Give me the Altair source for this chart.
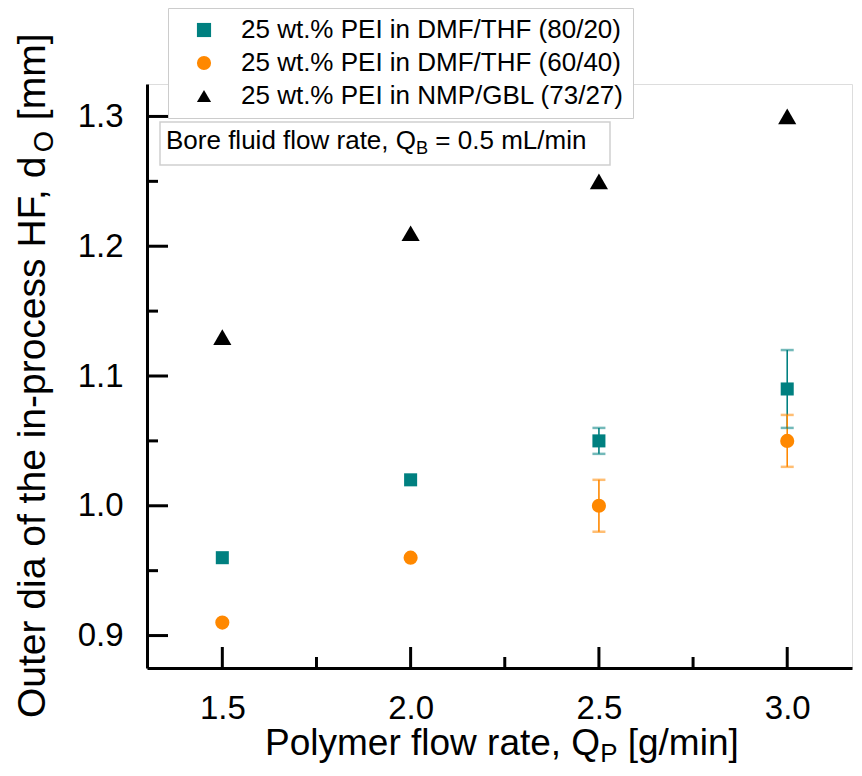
import altair as alt
import pandas as pd

# ---------------- data ----------------
QP = [1.5, 2.0, 2.5, 3.0]
SERIES = [
    "25 wt.% PEI in DMF/THF (80/20)",
    "25 wt.% PEI in DMF/THF (60/40)",
    "25 wt.% PEI in NMP/GBL (73/27)",
]
DO_8020 = [0.96, 1.02, 1.05, 1.09]
ERR_8020 = [0.0, 0.0, 0.01, 0.03]
DO_6040 = [0.91, 0.96, 1.00, 1.05]
ERR_6040 = [0.0, 0.0, 0.02, 0.02]
DO_7327 = [1.13, 1.21, 1.25, 1.30]

X_MAJOR = [1.5, 2.0, 2.5, 3.0]
X_MINOR = [1.75, 2.25, 2.75]
Y_MAJOR = [0.9, 1.0, 1.1, 1.2, 1.3]
Y_MINOR = [0.95, 1.05, 1.15, 1.25]

X_TITLE = [("Polymer flow rate, Q", False), ("P", True), (" [g/min]", False)]
Y_TITLE = [("Outer dia of the in-process HF, d", False), ("O", True), (" [mm]", False)]
NOTE = [("Bore fluid flow rate, Q", False), ("B", True), (" = 0.5 mL/min", False)]

# ---------------- styles ----------------
COLORS = ["#008080", "#FF8800", "#000000"]
SHAPES = ["square", "circle", "triangle-up"]
SIZES = [170, 200, 330]
FONT = "Liberation Sans"
W, H = 705, 584
XDOM = [1.3, 1.3 + W / 376.6]
YDOM = [0.875, 1.325]

# Arial / Liberation Sans advance widths (per 1000 em)
AW = {" ": 278, ".": 278, ",": 278, "/": 278, "%": 889, "(": 333, ")": 333,
      "[": 278, "]": 278, "=": 584, "-": 333,
      "A": 667, "B": 667, "C": 722, "D": 722, "E": 667, "F": 611, "G": 778,
      "H": 722, "I": 278, "L": 556, "M": 833, "N": 722, "O": 778, "P": 667,
      "Q": 778, "R": 722, "S": 667, "T": 611,
      "a": 556, "b": 556, "c": 500, "d": 556, "e": 556, "f": 278, "g": 556,
      "h": 556, "i": 222, "k": 500, "l": 222, "m": 833, "n": 556, "o": 556,
      "p": 556, "r": 333, "s": 500, "t": 278, "u": 556, "v": 500, "w": 722,
      "x": 500, "y": 500}


def twidth(s, size):
    return sum(AW.get(c, 556) for c in s) * size / 1000.0


def rich_text(pieces, x, y, size, angle=0, sub_scale=0.7, sub_dy=None):
    if sub_dy is None:
        sub_dy = size * 0.2
    layers = []
    off = 0.0
    for text, is_sub in pieces:
        fs = size * sub_scale if is_sub else size
        lead = len(text) - len(text.lstrip(" "))
        off += twidth(" " * lead, fs)
        text = text.lstrip(" ")
        kw = dict(align="left", baseline="alphabetic", font=FONT, fontSize=fs,
                  color="black", dx=off, dy=sub_dy if is_sub else 0)
        if angle:
            kw["angle"] = angle
        layers.append(
            alt.Chart(pd.DataFrame({"t": [text]}))
            .mark_text(**kw)
            .encode(text="t:N", x=alt.value(x), y=alt.value(y))
        )
        off += twidth(text, fs)
    return layers


# ---------------- tables ----------------
rows = []
for s, vals in zip(SERIES, [DO_8020, DO_6040, DO_7327]):
    for q, v in zip(QP, vals):
        rows.append({"qp": q, "do": v, "series": s})
pts = pd.DataFrame(rows)

erows = []
for s, vals, errs in zip(SERIES[:2], [DO_8020, DO_6040], [ERR_8020, ERR_6040]):
    for q, v, e in zip(QP, vals, errs):
        if e > 0:
            erows.append({"qp": q, "lo": v - e, "hi": v + e, "series": s})
err = pd.DataFrame(erows)

xs = alt.Scale(domain=XDOM, nice=False, zero=False)
ys = alt.Scale(domain=YDOM, nice=False, zero=False)
cscale = alt.Scale(domain=SERIES, range=COLORS)
sscale = alt.Scale(domain=SERIES, range=SHAPES)

legend = alt.Legend(
    title=None, orient="none", legendX=21, legendY=-76, direction="vertical",
    labelFontSize=26, labelFont=FONT, labelColor="black", labelLimit=0,
    symbolSize=200, symbolOffset=14, labelOffset=24, rowPadding=7,
    padding=9, strokeColor="#cccccc", fillColor="white", symbolStrokeWidth=0,
)

x_axis = alt.Axis(values=X_MAJOR, format=".1f", labelFontSize=33, labelFont=FONT,
                  labelColor="black", ticks=False, domainColor="black",
                  domainWidth=3, grid=False, labelPadding=24, title=None)
y_axis = alt.Axis(values=Y_MAJOR, format=".1f", labelFontSize=33, labelFont=FONT,
                  labelColor="black", ticks=False, domainColor="black",
                  domainWidth=3, grid=False, labelPadding=24, title=None)


def X(field):
    return alt.X(field, scale=xs, axis=x_axis)


def Y(field):
    return alt.Y(field, scale=ys, axis=y_axis)


# error bars
err_base = alt.Chart(err).encode(
    x=X("qp:Q"),
    color=alt.Color("series:N", scale=cscale, legend=None),
)
err_rule = err_base.mark_rule(strokeWidth=1.6).encode(y=Y("lo:Q"), y2="hi:Q")
cap_lo = err_base.mark_tick(orient="horizontal", size=13, thickness=2.5, opacity=0.55).encode(
    y=Y("lo:Q"))
cap_hi = err_base.mark_tick(orient="horizontal", size=13, thickness=2.5, opacity=0.55).encode(
    y=Y("hi:Q"))

# points
point_layers = []
for i, s in enumerate(SERIES):
    point_layers.append(
        alt.Chart(pts).transform_filter(alt.datum.series == s)
        .mark_point(filled=True, opacity=1, size=SIZES[i], strokeWidth=0)
        .encode(
            x=X("qp:Q"),
            y=Y("do:Q"),
            color=alt.Color("series:N", scale=cscale, legend=legend),
            shape=alt.Shape("series:N", scale=sscale, legend=legend),
        )
    )

# inward ticks
ymaj = alt.Chart(pd.DataFrame({"v": Y_MAJOR})).mark_rule(color="black", strokeWidth=3).encode(
    y=Y("v:Q"), x=alt.value(0), x2=alt.value(21))
ymin = alt.Chart(pd.DataFrame({"v": Y_MINOR})).mark_rule(color="black", strokeWidth=3).encode(
    y=Y("v:Q"), x=alt.value(0), x2=alt.value(11))
xmaj = alt.Chart(pd.DataFrame({"v": X_MAJOR})).mark_rule(color="black", strokeWidth=3).encode(
    x=X("v:Q"), y=alt.value(H), y2=alt.value(H - 21))
xmin = alt.Chart(pd.DataFrame({"v": X_MINOR})).mark_rule(color="black", strokeWidth=3).encode(
    x=X("v:Q"), y=alt.value(H), y2=alt.value(H - 11))

# annotation box
note_box = alt.Chart(pd.DataFrame({"t": [""]})).mark_rect(
    fill="white", stroke="#cfcfcf", strokeWidth=1.5).encode(
    x=alt.value(13), x2=alt.value(463), y=alt.value(38), y2=alt.value(81))
note_text = rich_text(NOTE, 19, 65, 26)

x_title = rich_text(X_TITLE, 118, 671, 37)
y_title = rich_text(Y_TITLE, -102, 634, 39, angle=270)

chart = alt.layer(
    *point_layers[:1], err_rule, cap_lo, cap_hi, *point_layers[1:],
    ymaj, ymin, xmaj, xmin, note_box, *note_text, *x_title, *y_title,
).properties(
    width=W, height=H,
    padding={"left": 139, "top": 76, "right": 2, "bottom": 100},
    autosize=alt.AutoSizeParams(type="none"),
).configure_view(stroke=None).configure(background="white")

chart.save("out.html", embed_options={"renderer": "svg", "actions": False})
